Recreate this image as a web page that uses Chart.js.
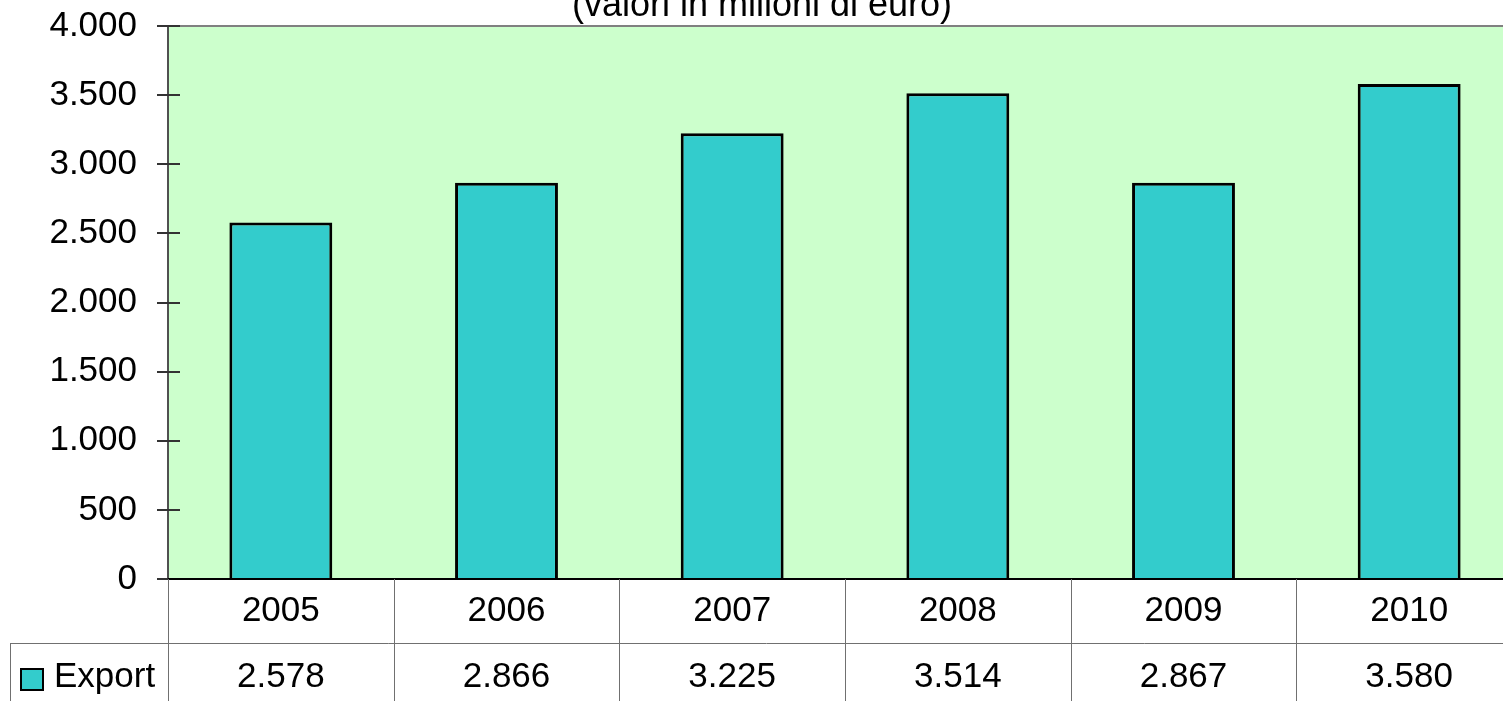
<!DOCTYPE html>
<html>
<head>
<meta charset="utf-8">
<script src="https://cdn.jsdelivr.net/npm/chart.js@4.4.1/dist/chart.umd.min.js"></script>
<style>
  html, body { margin: 0; padding: 0; background: #fff; overflow: hidden; }
  #wrap { position: relative; width: 1523px; height: 701px; }
</style>
</head>
<body>
<div id="wrap"><canvas id="mainChart"></canvas></div>
<script>
// --- DATI ---
const anni = ['2005', '2006', '2007', '2008', '2009', '2010'];
const exportValori = [2578, 2866, 3225, 3514, 2867, 3580];
const titolo = '(valori in milioni di euro)';
const nomeSerie = 'Export';
const yMin = 0, yMax = 4000, yStep = 500;

const FONT = '"Liberation Sans", Arial, sans-serif';

// formato italiano: 2578 -> 2.578
function fmt(v) {
    return String(v).replace(/\B(?=(\d{3})+(?!\d))/g, '.');
}

// --- PLUGIN: sfondo, assi, titolo, tabella dati ---
const decorPlugin = {
    id: 'decor',
    beforeDatasetsDraw(chart) {
        const { ctx, chartArea: a } = chart;
        ctx.save();
        ctx.fillStyle = '#CCFFCC';
        ctx.fillRect(a.left, a.top, a.right - a.left, a.bottom - a.top);
        ctx.restore();
    },
    afterDatasetsDraw(chart) {
        const { ctx, chartArea: a, scales } = chart;
        const y = scales.y, x = scales.x;
        ctx.save();

        // bordo superiore
        ctx.strokeStyle = '#808080';
        ctx.lineWidth = 2;
        ctx.beginPath();
        ctx.moveTo(a.left, a.top);
        ctx.lineTo(a.right, a.top);
        ctx.stroke();

        // asse y
        ctx.strokeStyle = '#505050';
        ctx.beginPath();
        ctx.moveTo(a.left, a.top);
        ctx.lineTo(a.left, a.bottom);
        ctx.stroke();

        // tacche asse y
        ctx.strokeStyle = '#333';
        ctx.lineWidth = 2;
        for (let v = yMin; v <= yMax; v += yStep) {
            const py = Math.round(y.getPixelForValue(v));
            ctx.beginPath();
            ctx.moveTo(a.left - 11, py);
            ctx.lineTo(a.left + 12, py);
            ctx.stroke();
        }

        // asse x
        ctx.strokeStyle = '#000';
        ctx.lineWidth = 2;
        ctx.beginPath();
        ctx.moveTo(a.left, a.bottom);
        ctx.lineTo(a.right, a.bottom);
        ctx.stroke();

        // titolo (tagliato in alto come nell'originale)
        ctx.fillStyle = '#000';
        ctx.font = '36px ' + FONT;
        ctx.textAlign = 'center';
        ctx.textBaseline = 'alphabetic';
        ctx.fillText(titolo, 762, 16);

        // tabella dati
        const step = x.getPixelForValue(1) - x.getPixelForValue(0);
        const rowMid = 643;
        const bottom = chart.height;
        ctx.strokeStyle = '#707070';
        ctx.lineWidth = 1;
        ctx.beginPath();
        ctx.moveTo(10, rowMid + 0.5);
        ctx.lineTo(chart.width, rowMid + 0.5);
        ctx.moveTo(10.5, rowMid);
        ctx.lineTo(10.5, bottom);
        for (let i = 0; i <= anni.length; i++) {
            const px = Math.round(x.getPixelForValue(i) - step / 2) + 0.5;
            ctx.moveTo(px, a.bottom);
            ctx.lineTo(px, bottom);
        }
        ctx.stroke();

        ctx.fillStyle = '#000';
        ctx.font = '35px ' + FONT;
        ctx.textAlign = 'center';
        ctx.textBaseline = 'middle';
        anni.forEach((anno, i) => {
            const px = x.getPixelForValue(i);
            ctx.fillText(anno, px, 611);
            ctx.fillText(fmt(exportValori[i]), px, 677);
        });

        // legenda nella tabella
        ctx.fillStyle = '#33CCCC';
        ctx.fillRect(21, 669, 22, 21);
        ctx.strokeStyle = '#000';
        ctx.lineWidth = 2;
        ctx.strokeRect(21, 669, 22, 21);
        ctx.fillStyle = '#000';
        ctx.textAlign = 'left';
        ctx.fillText(nomeSerie, 54, 677);

        ctx.restore();
    }
};

// --- GRAFICO ---
const ctx = document.getElementById('mainChart').getContext('2d');
const mainChart = new Chart(ctx, {
    type: 'bar',
    data: {
        labels: anni,
        datasets: [{
            label: nomeSerie,
            data: exportValori,
            backgroundColor: '#33CCCC',
            borderColor: '#000000',
            borderWidth: 3,
            borderSkipped: 'bottom',
            categoryPercentage: 1,
            barPercentage: 0.456
        }]
    },
    options: {
        responsive: true,
        maintainAspectRatio: false,
        animation: false,
        layout: { padding: { left: 0, top: 26, right: 1, bottom: 122 } },
        plugins: {
            legend: { display: false },
            title: { display: false },
            tooltip: { enabled: false }
        },
        scales: {
            x: {
                display: false,
                offset: true,
                grid: { display: false }
            },
            y: {
                min: yMin,
                max: yMax,
                grid: { display: false, drawTicks: false },
                border: { display: false },
                ticks: {
                    stepSize: yStep,
                    padding: 31,
                    color: '#000',
                    font: { family: FONT, size: 35 },
                    callback: v => fmt(v)
                },
                afterFit(scale) {
                    scale.width = 168;
                    scale.paddingTop = 0;
                    scale.paddingBottom = 0;
                }
            }
        }
    },
    plugins: [decorPlugin]
});
</script>
</body>
</html>
